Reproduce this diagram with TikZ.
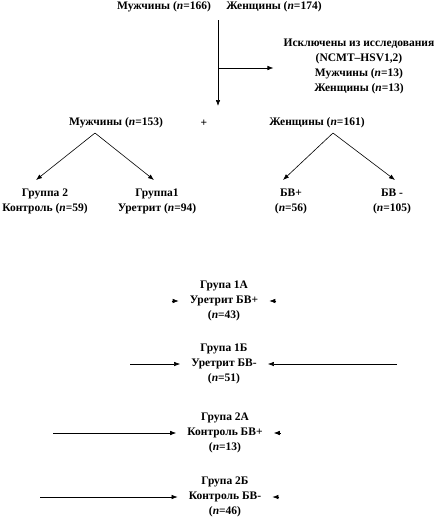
\documentclass[tikz,border=0pt]{standalone}
\usepackage{fontspec}
\setmainfont{Liberation Serif}
\usetikzlibrary{arrows.meta}
\tikzset{
    >={Latex[length=6pt,width=4.5pt]}, % small filled arrowhead
    lbl/.style={font=\fontsize{11.5}{15}\selectfont\bfseries, align=center, inner sep=1pt},
    conn/.style={->, line width=0.6pt, draw=black},
    % only the head of an arrow is left over
    stub/.style={->, line width=0.6pt, shorten >=10pt}
}
\newcommand{\nval}[1]{(\textit{n}=#1)}

\begin{document}
\begin{tikzpicture}[x=1pt, y=-1pt]
    \useasboundingbox (0,0) rectangle (439,523);

    % =========================================================================
    % TOP: whole sample and excluded patients
    % =========================================================================
    \node[lbl] (m166) at (164,7) {Мужчины \nval{166}};
    \node[lbl] (f174) at (274,7) {Женщины \nval{174}};
    \node[lbl] (excl) at (359,66) {Исключены из исследования\\(NCMT–HSV1,2)\\Мужчины \nval{13}\\Женщины \nval{13}};

    \coordinate (vtop) at (218,20);
    \coordinate (vbr)  at (218,68);
    \coordinate (vbot) at (218,106);
    \draw[conn] (vtop) -- (vbot);
    \draw[conn, shorten >=9pt] (vbr) -- (vbr -| excl.west);

    % =========================================================================
    % MIDDLE: men and women split
    % =========================================================================
    \node[lbl] (m153) at (116,123) {Мужчины \nval{153}};
    \node[lbl] (plus) at (204,123) {+};
    \node[lbl] (f161) at (317,123) {Женщины \nval{161}};

    \node[lbl] (g2)  at (45,201)  {Группа 2\\Контроль \nval{59}};
    \node[lbl] (g1)  at (157,201) {Группа1\\Уретрит \nval{94}};
    \node[lbl] (bvp) at (291,201) {БВ+\\\nval{56}};
    \node[lbl] (bvm) at (392,201) {БВ -\\\nval{105}};

    \coordinate (mapex) at (95,133);
    \coordinate (fapex) at (333,133);
    \coordinate (g2tip)  at (36,180);
    \coordinate (g1tip)  at (154,180);
    \coordinate (bvptip) at (283,180);
    \coordinate (bvmtip) at (395,180);
    \draw[conn] (mapex) -- (g2tip);
    \draw[conn] (mapex) -- (g1tip);
    \draw[conn] (fapex) -- (bvptip);
    \draw[conn] (fapex) -- (bvmtip);

    % =========================================================================
    % BOTTOM: final groups
    % =========================================================================
    \node[lbl] (g1a) at (224,301) {Група 1А\\Уретрит БВ+\\\nval{43}};
    \node[lbl] (g1b) at (224,364) {Група 1Б\\Уретрит БВ-\\\nval{51}};
    \node[lbl] (g2a) at (225,433) {Група 2А\\Контроль БВ+\\\nval{13}};
    \node[lbl] (g2b) at (225,497) {Група 2Б\\Контроль БВ-\\\nval{46}};

    \coordinate (g1bL) at (130,364);
    \coordinate (g1bR) at (397,364);
    \coordinate (g2aL) at (53,433);
    \coordinate (g2bL) at (40,497);

    \draw[stub] ([xshift=-17pt]g1a.west) -- (g1a.west);
    \draw[stub] ([xshift=17pt]g1a.east) -- (g1a.east);
    \draw[conn, shorten >=10pt] (g1bL) -- (g1b);
    \draw[conn, shorten >=10pt] (g1bR) -- (g1b);
    \draw[conn, shorten >=10pt] (g2aL) -- (g2a);
    \draw[stub] ([xshift=17pt]g2a.east) -- (g2a.east);
    \draw[conn, shorten >=10pt] (g2bL) -- (g2b);
    \draw[stub] ([xshift=17pt]g2b.east) -- (g2b.east);
\end{tikzpicture}
\end{document}
